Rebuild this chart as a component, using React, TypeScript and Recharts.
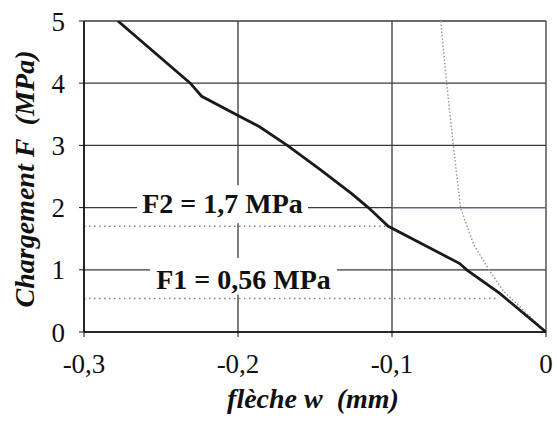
import { LineChart, Line, XAxis, YAxis, CartesianGrid, ReferenceArea, ReferenceLine, Label } from 'recharts';

// flèche w (mm) / chargement F (MPa)
const wSolid = [-0.278, -0.231, -0.2236, -0.2, -0.186, -0.168, -0.147, -0.126, -0.1154, -0.1024, -0.056, -0.0515, -0.03, 0];
const fSolid = [5.0, 4.0, 3.79, 3.48, 3.3, 3.0, 2.62, 2.22, 2.0, 1.7, 1.1, 1.0, 0.62, 0];

const wDotted = [-0.0684, -0.0645, -0.0602, -0.0555, -0.0472, -0.0375, -0.0277, 0];
const fDotted = [5.0, 4.0, 3.0, 2.0, 1.42, 1.02, 0.66, 0];

const xTicks = [-0.3, -0.2, -0.1, 0];
const xTickLabels = ['-0,3', '-0,2', '-0,1', '0'];
const yTicks = [0, 1, 2, 3, 4, 5];

const f2Level = 1.7;
const f2End = -0.1034;
const f1Level = 0.54;
const f1End = -0.032;

const solidData = wSolid.map((w, i) => ({ w, f: fSolid[i] }));
const dottedData = wDotted.map((w, i) => ({ w, f: fDotted[i] }));

const serif = "'Times New Roman', Times, 'Liberation Serif', 'Noto Serif', 'DejaVu Serif', FreeSerif, serif";

const annoStyle = { fontFamily: serif, fontSize: 28, fontWeight: 700, fill: '#111' };

export default function App() {
  return (
    <div style={{ width: 557, height: 430, background: '#fff' }}>
      <style>{`body{margin:0}`}</style>
      <LineChart width={557} height={430} margin={{ top: 21, right: 11, left: 24, bottom: 38 }}>
        <CartesianGrid stroke="#3a3a3a" strokeWidth={1.3} />
        <XAxis
          type="number"
          dataKey="w"
          domain={[-0.3, 0]}
          ticks={xTicks}
          tickFormatter={(v: number) => xTickLabels[xTicks.indexOf(v)] ?? String(v)}
          height={60}
          tickSize={5}
          tickMargin={17}
          axisLine={{ stroke: '#111', strokeWidth: 1.6 }}
          tickLine={{ stroke: '#111' }}
          tick={{ fill: '#111', fontSize: 27, fontFamily: serif }}
          allowDataOverflow
        >
          <Label
            content={() => (
              <text x={313} y={408} textAnchor="middle" style={{ fontFamily: serif, fontSize: 28, fontWeight: 700, fontStyle: 'italic', fill: '#111', whiteSpace: 'pre' }}>
                {'flèche w  (mm)'}
              </text>
            )}
          />
        </XAxis>
        <YAxis
          type="number"
          domain={[0, 5]}
          ticks={yTicks}
          width={60}
          tickSize={5}
          tickMargin={14}
          axisLine={{ stroke: '#111', strokeWidth: 1.6 }}
          tickLine={{ stroke: '#111' }}
          tick={{ fill: '#111', fontSize: 27, fontFamily: serif }}
          allowDataOverflow
        >
          <Label
            content={() => (
              <text x={34} y={179} transform="rotate(-90, 34, 179)" textAnchor="middle" style={{ fontFamily: serif, fontSize: 28, fontWeight: 700, fontStyle: 'italic', fill: '#111', whiteSpace: 'pre' }}>
                {'Chargement F  (MPa)'}
              </text>
            )}
          />
        </YAxis>

        {/* label boxes hide the grid behind the text */}
        <ReferenceArea x1={-0.2656} x2={-0.1545} y1={1.75} y2={2.36} fill="#fff" fillOpacity={1} stroke="none">
          <Label value="F2 = 1,7 MPa" position="center" dy={-1} style={annoStyle} />
        </ReferenceArea>
        <ReferenceArea x1={-0.2571} x2={-0.1357} y1={0.6} y2={1.19} fill="#fff" fillOpacity={1} stroke="none">
          <Label value="F1 = 0,56 MPa" position="center" dy={3} style={annoStyle} />
        </ReferenceArea>

        <ReferenceLine segment={[{ x: -0.1, y: 2 }, { x: 0, y: 2 }]} stroke="#5d62a0" strokeWidth={1.2} />
        <ReferenceLine segment={[{ x: -0.3, y: f2Level }, { x: f2End, y: f2Level }]} stroke="#7a7fa8" strokeWidth={1.5} strokeDasharray="1.5 3.5" />
        <ReferenceLine segment={[{ x: -0.3, y: f1Level }, { x: f1End, y: f1Level }]} stroke="#7a7fa8" strokeWidth={1.5} strokeDasharray="1.5 3.5" />

        <Line
          data={dottedData}
          dataKey="f"
          type="linear"
          stroke="#9a9a9a"
          strokeWidth={1.5}
          strokeDasharray="1.5 2"
          dot={false}
          isAnimationActive={false}
        />
        <Line
          data={solidData}
          dataKey="f"
          type="linear"
          stroke="#1a1a1a"
          strokeWidth={2.8}
          dot={false}
          isAnimationActive={false}
        />
      </LineChart>
    </div>
  );
}
